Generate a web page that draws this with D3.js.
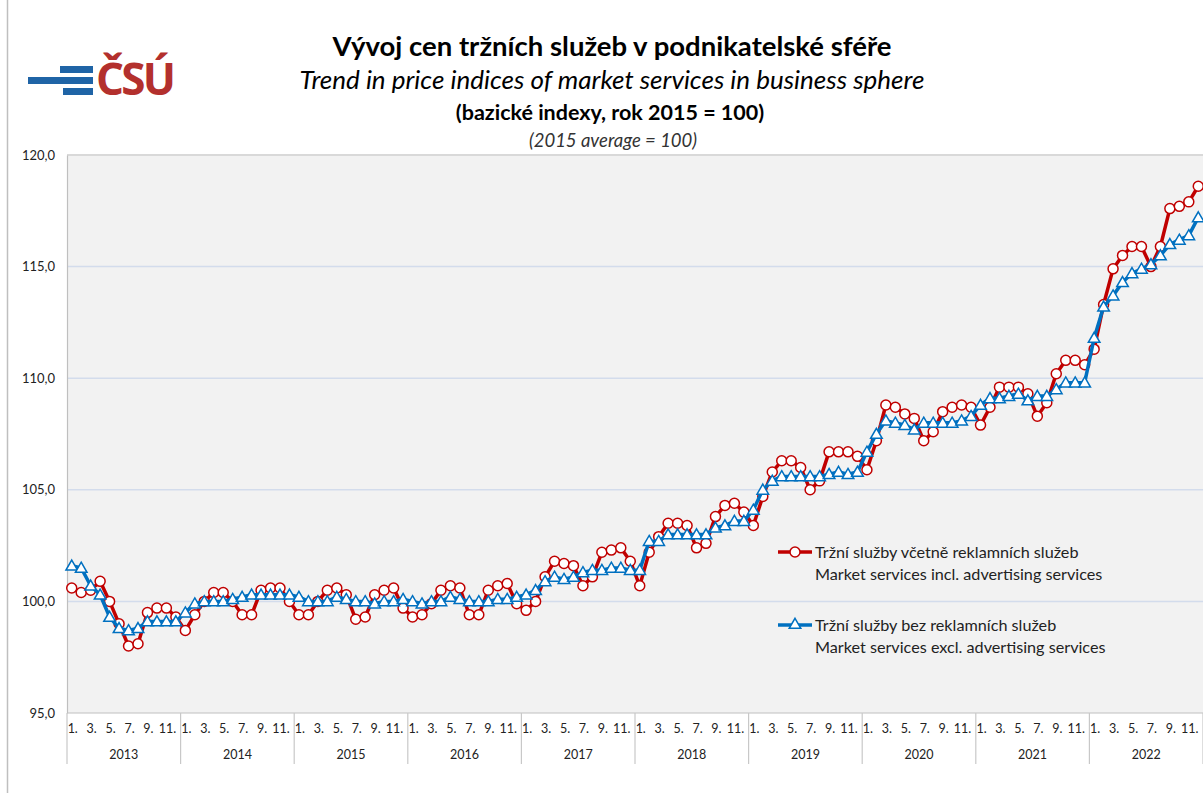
<!DOCTYPE html>
<html>
<head>
<meta charset="utf-8">
<script src="https://cdn.jsdelivr.net/npm/d3@7"></script>
<style>
  html, body { margin: 0; padding: 0; background: #fff; }
  svg { display: block; font-family: Lato, "Open Sans", sans-serif; }
</style>
</head>
<body>
<svg id="chart" width="1203" height="793"></svg>
<script>
const years = [2013, 2014, 2015, 2016, 2017, 2018, 2019, 2020, 2021, 2022];
const monthTicks = ["1.", "3.", "5.", "7.", "9.", "11."];
const yTicks = [95, 100, 105, 110, 115, 120];

// Tržní služby včetně reklamních služeb (monthly, 2013-2022)
const inclAdvertising = [
  100.6, 100.4, 100.5, 100.9, 100.0, 99.0, 98.0, 98.1, 99.5, 99.7, 99.7, 99.3,
  98.7, 99.4, 100.0, 100.4, 100.4, 100.0, 99.4, 99.4, 100.5, 100.6, 100.6, 100.0,
  99.4, 99.4, 100.0, 100.5, 100.6, 100.3, 99.2, 99.3, 100.3, 100.5, 100.6, 99.7,
  99.3, 99.4, 99.9, 100.5, 100.7, 100.6, 99.4, 99.4, 100.5, 100.7, 100.8, 99.9,
  99.6, 100.0, 101.1, 101.8, 101.7, 101.6, 100.7, 101.1, 102.2, 102.3, 102.4, 101.8,
  100.7, 102.2, 102.9, 103.5, 103.5, 103.4, 102.4, 102.6, 103.8, 104.3, 104.4, 104.0,
  103.4, 104.7, 105.8, 106.3, 106.3, 106.0, 105.0, 105.4, 106.7, 106.7, 106.7, 106.5,
  105.9, 107.2, 108.8, 108.7, 108.4, 108.2, 107.2, 107.6, 108.5, 108.7, 108.8, 108.7,
  107.9, 108.7, 109.6, 109.6, 109.6, 109.3, 108.3, 108.9, 110.2, 110.8, 110.8, 110.6,
  111.3, 113.3, 114.9, 115.5, 115.9, 115.9, 115.0, 115.9, 117.6, 117.7, 117.9, 118.6
];

// Tržní služby bez reklamních služeb
const exclAdvertising = [
  101.6, 101.5, 100.7, 100.3, 99.3, 98.8, 98.7, 98.8, 99.1, 99.1, 99.1, 99.1,
  99.5, 99.9, 100.0, 100.0, 100.0, 100.1, 100.2, 100.3, 100.3, 100.3, 100.3, 100.3,
  100.2, 100.0, 100.0, 100.0, 100.2, 100.1, 100.0, 100.0, 99.9, 100.0, 100.0, 100.1,
  100.0, 99.9, 100.0, 100.0, 100.2, 100.1, 100.0, 100.0, 100.0, 100.1, 100.1, 100.2,
  100.3, 100.5, 100.9, 101.1, 101.0, 101.1, 101.3, 101.4, 101.4, 101.5, 101.5, 101.4,
  101.4, 102.7, 102.7, 103.0, 103.0, 103.0, 103.0, 103.0, 103.3, 103.4, 103.6, 103.6,
  104.1, 105.0, 105.4, 105.6, 105.6, 105.6, 105.6, 105.6, 105.7, 105.8, 105.7, 105.8,
  106.7, 107.5, 108.1, 108.0, 107.9, 107.7, 108.0, 108.0, 108.0, 108.0, 108.1, 108.3,
  108.8, 109.1, 109.1, 109.2, 109.3, 109.0, 109.2, 109.2, 109.5, 109.8, 109.8, 109.8,
  111.8, 113.2, 113.7, 114.3, 114.7, 114.9, 115.1, 115.5, 116.0, 116.2, 116.4, 117.2
];

const RED = "#c00000";
const BLUE = "#0070c0";

const svg = d3.select("#chart");
const plot = { left: 67, right: 1203, top: 155, bottom: 713 };

const months = d3.range(years.length * 12);
const x = d3.scaleBand().domain(months).range([plot.left, plot.right]);
const y = d3.scaleLinear().domain([95, 120]).range([plot.bottom, plot.top]);
const cx = (i) => x(i) + x.bandwidth() / 2;

// outer frame edge
svg.append("line")
  .attr("x1", 7.5).attr("x2", 7.5).attr("y1", 0).attr("y2", 793)
  .attr("stroke", "#bfbfbf").attr("stroke-width", 1.5);

// logo
const logo = svg.append("g");
logo.append("rect").attr("x", 28).attr("y", 77).attr("width", 65).attr("height", 7).attr("fill", "#1f64a6");
logo.append("rect").attr("x", 60).attr("y", 66).attr("width", 33).attr("height", 7).attr("fill", "#1f64a6");
logo.append("rect").attr("x", 63).attr("y", 88).attr("width", 30).attr("height", 7).attr("fill", "#1f64a6");
logo.append("text")
  .attr("x", 96).attr("y", 95)
  .attr("font-family", "'Open Sans', sans-serif")
  .attr("font-weight", 700).attr("font-size", 44)
  .attr("fill", "#b3302d")
  .attr("textLength", 80)
  .text("ČSÚ");

// titles
const titles = svg.append("g").attr("text-anchor", "middle").attr("fill", "#000");
titles.append("text").attr("x", 612).attr("y", 56)
  .attr("font-weight", 700).attr("font-size", 27.5)
  .text("Vývoj cen tržních služeb v podnikatelské sféře");
titles.append("text").attr("x", 612).attr("y", 89)
  .attr("font-style", "italic").attr("font-size", 26)
  .text("Trend in price indices of market services in business sphere");
titles.append("text").attr("x", 610).attr("y", 120)
  .attr("font-weight", 700).attr("font-size", 21.5)
  .text("(bazické indexy, rok 2015 = 100)");
titles.append("text").attr("x", 613).attr("y", 147)
  .attr("font-style", "italic").attr("font-size", 18.5).attr("fill", "#333")
  .text("(2015 average = 100)");

// plot area
svg.append("rect")
  .attr("x", plot.left).attr("y", plot.top)
  .attr("width", plot.right - plot.left).attr("height", plot.bottom - plot.top)
  .attr("fill", "#f2f2f2");

// gridlines
svg.append("g")
  .selectAll("line")
  .data(yTicks.filter((d) => d > 95 && d < 120))
  .join("line")
  .attr("x1", plot.left).attr("x2", plot.right)
  .attr("y1", (d) => y(d)).attr("y2", (d) => y(d))
  .attr("stroke", "#d3dcec").attr("stroke-width", 1.5);

svg.append("line")
  .attr("x1", plot.left).attr("x2", plot.right)
  .attr("y1", plot.top).attr("y2", plot.top)
  .attr("stroke", "#d9d9d9").attr("stroke-width", 2);

// y axis
const yAxis = svg.append("g")
  .attr("transform", `translate(${plot.left},0)`)
  .call(d3.axisLeft(y).tickValues(yTicks).tickSize(0).tickPadding(12)
    .tickFormat((d) => d3.format(".1f")(d).replace(".", ",")));
yAxis.select(".domain").attr("stroke", "#bfbfbf").attr("stroke-width", 1.2);
yAxis.selectAll(".tick text")
  .attr("font-family", "Lato, sans-serif").attr("font-size", 13).attr("fill", "#222");

// x axis: months, years, separators
svg.append("line")
  .attr("x1", plot.left).attr("x2", plot.right)
  .attr("y1", plot.bottom).attr("y2", plot.bottom)
  .attr("stroke", "#bfbfbf").attr("stroke-width", 1.2);

const xAxis = svg.append("g").attr("font-family", "Lato, sans-serif").attr("fill", "#222");
xAxis.selectAll(".month")
  .data(months.filter((i) => i % 2 === 0))
  .join("text")
  .attr("class", "month")
  .attr("x", (i) => cx(i) + 1)
  .attr("y", 733)
  .attr("text-anchor", "middle")
  .attr("font-size", 12.5)
  .text((i) => monthTicks[(i % 12) / 2]);

xAxis.selectAll(".year")
  .data(years)
  .join("text")
  .attr("class", "year")
  .attr("x", (d, k) => (x(k * 12) + x(k * 12 + 11) + x.bandwidth()) / 2)
  .attr("y", 759)
  .attr("text-anchor", "middle")
  .attr("font-size", 12.5)
  .text((d) => d);

xAxis.selectAll(".sep")
  .data(d3.range(years.length + 1))
  .join("line")
  .attr("class", "sep")
  .attr("x1", (k) => (k < years.length ? x(k * 12) : plot.right))
  .attr("x2", (k) => (k < years.length ? x(k * 12) : plot.right))
  .attr("y1", plot.bottom).attr("y2", 764)
  .attr("stroke", "#c8c8c8").attr("stroke-width", 1.2);

// series
const line = d3.line().x((d, i) => cx(i)).y((d) => y(d));
const tri = d3.symbol().type(d3.symbolTriangle).size(58);

svg.append("path").datum(inclAdvertising)
  .attr("fill", "none").attr("stroke", RED).attr("stroke-width", 3.5)
  .attr("stroke-linejoin", "round").attr("d", line);
svg.append("g").selectAll("circle")
  .data(inclAdvertising)
  .join("circle")
  .attr("cx", (d, i) => cx(i)).attr("cy", (d) => y(d)).attr("r", 5)
  .attr("fill", "#fff").attr("stroke", RED).attr("stroke-width", 1.5);

svg.append("path").datum(exclAdvertising)
  .attr("fill", "none").attr("stroke", BLUE).attr("stroke-width", 3.5)
  .attr("stroke-linejoin", "round").attr("d", line);
svg.append("g").selectAll("path")
  .data(exclAdvertising)
  .join("path")
  .attr("d", tri)
  .attr("transform", (d, i) => `translate(${cx(i)},${y(d) + 1})`)
  .attr("fill", "#fff").attr("stroke", BLUE).attr("stroke-width", 1.5);

// legend
const legendItems = [
  { color: RED, marker: "circle", lines: ["Tržní služby včetně reklamních služeb", "Market services incl. advertising services"], y: 552 },
  { color: BLUE, marker: "triangle", lines: ["Tržní služby bez reklamních služeb", "Market services excl. advertising services"], y: 625 }
];
const legend = svg.append("g");
legendItems.forEach((item) => {
  legend.append("line")
    .attr("x1", 778).attr("x2", 812).attr("y1", item.y).attr("y2", item.y)
    .attr("stroke", item.color).attr("stroke-width", 3.5);
  if (item.marker === "circle") {
    legend.append("circle").attr("cx", 795).attr("cy", item.y).attr("r", 5)
      .attr("fill", "#fff").attr("stroke", item.color).attr("stroke-width", 1.5);
  } else {
    legend.append("path").attr("d", tri).attr("transform", `translate(795,${item.y})`)
      .attr("fill", "#fff").attr("stroke", item.color).attr("stroke-width", 1.5);
  }
  item.lines.forEach((t, k) => {
    legend.append("text")
      .attr("x", 815).attr("y", item.y + 6 + k * 22)
      .attr("font-family", "Lato, sans-serif").attr("font-size", 16.2).attr("fill", "#222")
      .text(t);
  });
});
</script>
</body>
</html>
